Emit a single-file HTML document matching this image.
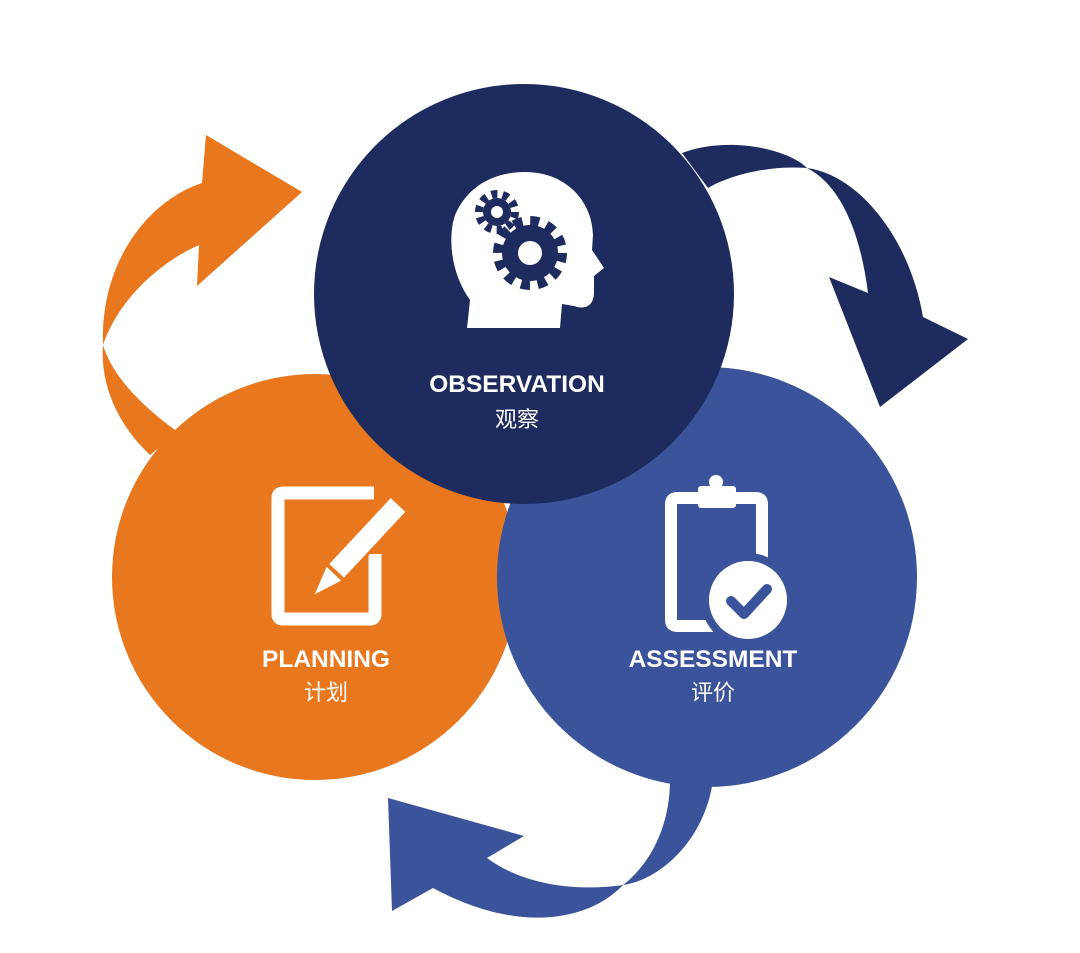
<!DOCTYPE html>
<html><head><meta charset="utf-8"><style>
html,body{margin:0;padding:0;background:#fff;}
svg{display:block;}
text{font-family:"Liberation Sans","Noto Sans CJK SC",sans-serif;fill:#fff;text-anchor:middle;}
</style></head><body>
<svg width="1080" height="953" viewBox="0 0 1080 953" xmlns="http://www.w3.org/2000/svg">
<!-- arrows -->
<path fill="#E8771E" d="M202,183 C150,200 100,260 103,345 C100,385 118,425 150,455 L178,432 C140,405 112,375 103,345 C118,300 160,262 199,245 L197,286 L302,192 L206,135 Z"/>
<path fill="#1D2B5E" d="M682,153 C730,135 790,150 807,168 C860,175 910,240 923,317 L968,339 L880,407 L829,277 L868,293 C860,230 840,185 807,168 C770,165 730,175 708,188 Z"/>
<path fill="#3A539B" d="M713,780 C705,840 660,880 623,885 C590,920 520,935 433,888 L392,911 L388,798 L524,836 L487,858 C530,890 590,890 623,885 C655,860 670,820 670,780 Z"/>
<!-- circles -->
<circle cx="315" cy="577" r="203" fill="#E8771E"/>
<circle cx="707" cy="577" r="210" fill="#3A539B"/>
<circle cx="524" cy="294" r="210" fill="#1D2B5E"/>
<!-- head icon -->
<path fill="#fff" d="M467,328 L470,300 C452,275 447,240 455,215 C468,185 495,172 525,172 C565,172 592,200 593,235 L592,250 L604,268 L594,276 L594,292 C594,306 585,310 574,306 L562,304 L560,328 Z"/>
<g fill="#1D2B5E">
<circle cx="497" cy="212" r="14"/>
<circle cx="497" cy="212" r="18" fill="none" stroke="#1D2B5E" stroke-width="8" stroke-dasharray="6 5.3"/>
<circle cx="530" cy="253" r="28"/>
<circle cx="530" cy="253" r="32" fill="none" stroke="#1D2B5E" stroke-width="10" stroke-dasharray="9 7.75"/>
</g>
<circle cx="497" cy="212" r="6" fill="#fff"/>
<circle cx="530" cy="253" r="12" fill="#fff"/>
<!-- planning icon -->
<path d="M374,493 L283,493 Q278,493 278,498 L278,614 Q278,619 283,619 L370,619 Q375,619 375,614 L375,554" fill="none" stroke="#fff" stroke-width="13"/>
<g transform="translate(398,505) rotate(133)">
<rect x="-8" y="-13" width="100" height="26" fill="#E8771E"/>
<rect x="0" y="-10" width="90" height="20" fill="#fff"/>
<polygon points="94,-10 122,0 94,10" fill="#fff"/>
</g>
<!-- assessment icon -->
<path d="M712,498 L677,498 Q671,498 671,504 L671,620 Q671,626 677,626 L740,626 M722,498 L756,498 Q762,498 762,504 L762,560" fill="none" stroke="#fff" stroke-width="12"/>
<rect x="698" y="486" width="38" height="22" rx="3" fill="#fff"/>
<circle cx="716" cy="482" r="7" fill="#fff"/>
<circle cx="748" cy="600" r="47" fill="#3A539B"/>
<circle cx="748" cy="600" r="39" fill="#fff"/>
<polyline points="731,601 744,614 767,589" fill="none" stroke="#3A539B" stroke-width="10" stroke-linecap="round" stroke-linejoin="round"/>
<!-- labels -->
<text x="517" y="392" font-size="24.5" font-weight="bold">OBSERVATION</text>
<text x="517" y="427" font-size="22">观察</text>
<text x="326" y="667" font-size="24.5" font-weight="bold">PLANNING</text>
<text x="326" y="700" font-size="22">计划</text>
<text x="713" y="667" font-size="24.5" font-weight="bold">ASSESSMENT</text>
<text x="713" y="700" font-size="22">评价</text>
</svg>
</body></html>
